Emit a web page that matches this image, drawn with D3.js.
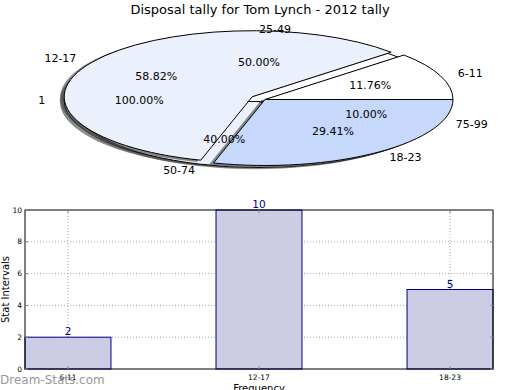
<!DOCTYPE html>
<html><head><meta charset="utf-8">
<script src="https://cdn.jsdelivr.net/npm/d3@7"></script>
<style>body{margin:0;background:#fff}svg{display:block;font-family:"DejaVu Sans",sans-serif}</style>
</head><body><svg id="c" width="520" height="390"></svg>
<script>
const title = "Disposal tally for Tom Lynch - 2012 tally";
// pie layers (drawn bottom to top)
const pie3Labels = ["1"];
const pie3Values = [1];
const pie2Labels = ["25-49", "50-74", "75-99"];
const pie2Values = [5, 4, 1];
const pie1Labels = ["6-11", "12-17", "18-23"];
const pie1Values = [2, 10, 5];
const pie1Explode = [0, 0.08, 0];
// bar chart
const barCategories = ["6-11", "12-17", "18-23"];
const barValues = [2, 10, 5];
const yTicks = [0, 2, 4, 6, 8, 10];

const svg = d3.select("#c");
const colors = ["#ffffff", "#eaf0fc", "#c6d8fb"];
const RX = 188, RY = 66;

svg.append("text").attr("x", 260).attr("y", 14).attr("text-anchor", "middle")
  .attr("font-size", 13).text(title);

function drawPie(labels, values, cx, cy, explode, cols) {
  const pie = d3.pie().sort(null).startAngle(Math.PI / 2).endAngle(Math.PI / 2 - 2 * Math.PI);
  const arcs = pie(values);
  const total = d3.sum(values);
  const arc = d3.arc().innerRadius(0).outerRadius(RX);
  const g = svg.append("g");
  const off = (d, i) => {
    const m = (d.startAngle + d.endAngle) / 2, e = explode ? explode[i] : 0;
    return [cx + e * RX * Math.sin(m), cy - e * RY * Math.cos(m)];
  };
  // shadow
  arcs.forEach((d, i) => {
    const [x, y] = off(d, i);
    g.append("path").attr("d", arc(d))
      .attr("transform", `translate(${x - 3.8},${y + 1.3}) scale(1,${RY / RX})`)
      .attr("fill", "#333").attr("fill-opacity", 0.55)
      .attr("stroke", "#666").attr("stroke-width", 0.6).attr("vector-effect", "non-scaling-stroke");
  });
  arcs.forEach((d, i) => {
    const [x, y] = off(d, i);
    g.append("path").attr("d", arc(d))
      .attr("transform", `translate(${x},${y}) scale(1,${RY / RX})`)
      .attr("fill", cols[i % cols.length]).attr("stroke", "#000").attr("stroke-width", 1)
      .attr("vector-effect", "non-scaling-stroke").attr("stroke-linejoin", "round");
  });
  return arcs.map((d, i) => ({ d, i, o: off(d, i), total }));
}

function drawLabels(info, labels, values) {
  info.forEach(({ d, i, o, total }) => {
    const m = (d.startAngle + d.endAngle) / 2;
    const sx = Math.sin(m), cyv = Math.cos(m);
    const lx = o[0] + 1.1 * RX * sx, ly = o[1] - 1.1 * RY * cyv;
    svg.append("text").attr("x", lx).attr("y", ly).attr("dy", "0.35em")
      .attr("text-anchor", sx > 1e-9 || Math.abs(sx) < 1e-9 ? "start" : "end")
      .attr("font-size", 11).text(labels[i]);
    const px = o[0] + 0.6 * RX * sx, py = o[1] - 0.6 * RY * cyv;
    svg.append("text").attr("x", px).attr("y", py).attr("dy", "0.35em")
      .attr("text-anchor", "middle").attr("font-size", 11)
      .text((values[i] / total * 100).toFixed(2) + "%");
  });
}

const i3 = drawPie(pie3Labels, pie3Values, 252, 100, null, ["#ffffff"]);
const i2 = drawPie(pie2Labels, pie2Values, 259, 101.5, null, colors);
const i1 = drawPie(pie1Labels, pie1Values, 265, 99.5, pie1Explode, colors);
drawLabels(i3, pie3Labels, pie3Values);
drawLabels(i2, pie2Labels, pie2Values);
drawLabels(i1, pie1Labels, pie1Values);

// ---- bar chart ----
const L = 25, R = 493, T = 210, B = 369;
const x = d3.scaleLinear().domain([-0.225, barCategories.length - 1 + 0.225]).range([L, R]);
const y = d3.scaleLinear().domain([0, 10]).range([B, T]);
const bw = x(0.225) - x(-0.225);
const gb = svg.append("g");
// grid
gb.selectAll(".gy").data(yTicks.slice(1, -1)).join("line")
  .attr("x1", L).attr("x2", R).attr("y1", d => y(d)).attr("y2", d => y(d))
  .attr("stroke", "#aaa").attr("stroke-dasharray", "1,2");
gb.selectAll(".gx").data(barCategories).join("line")
  .attr("x1", (d, i) => x(i)).attr("x2", (d, i) => x(i)).attr("y1", T).attr("y2", B)
  .attr("stroke", "#aaa").attr("stroke-dasharray", "1,2");
// bars
gb.selectAll(".bar").data(barValues).join("rect")
  .attr("x", (d, i) => x(i) - bw / 2).attr("width", bw)
  .attr("y", d => y(d)).attr("height", d => B - y(d))
  .attr("fill", "#ccccE5").attr("stroke", "#000080").attr("stroke-width", 1);
gb.selectAll(".val").data(barValues).join("text")
  .attr("x", (d, i) => x(i)).attr("y", d => y(d) - 2).attr("text-anchor", "middle")
  .attr("font-size", 10.5).attr("fill", "#000080").text(d => d);
// frame
gb.append("rect").attr("x", L).attr("y", T).attr("width", R - L).attr("height", B - T)
  .attr("fill", "none").attr("stroke", "#000").attr("stroke-width", 1);
// ticks
yTicks.forEach(t => {
  gb.append("line").attr("x1", L).attr("x2", L + 3).attr("y1", y(t)).attr("y2", y(t)).attr("stroke", "#888");
  gb.append("line").attr("x1", R - 3).attr("x2", R).attr("y1", y(t)).attr("y2", y(t)).attr("stroke", "#888");
  gb.append("text").attr("x", L - 3).attr("y", y(t)).attr("dy", "0.35em").attr("text-anchor", "end")
    .attr("font-size", 7.5).text(t);
});
barCategories.forEach((c, i) => {
  gb.append("line").attr("x1", x(i)).attr("x2", x(i)).attr("y1", B - 3).attr("y2", B).attr("stroke", "#888");
  gb.append("line").attr("x1", x(i)).attr("x2", x(i)).attr("y1", T).attr("y2", T + 3).attr("stroke", "#888");
  gb.append("text").attr("x", x(i)).attr("y", B + 11).attr("text-anchor", "middle")
    .attr("font-size", 7.5).text(c);
});
svg.append("text").attr("x", (L + R) / 2).attr("y", 392).attr("text-anchor", "middle")
  .attr("font-size", 10).text("Frequency");
svg.append("text").attr("transform", `translate(8.5,${(T + B) / 2}) rotate(-90)`)
  .attr("text-anchor", "middle").attr("font-size", 10).text("Stat Intervals");
svg.append("text").attr("x", 0).attr("y", 384).attr("font-size", 12)
  .attr("fill", "#999").text("Dream-Stats.com");
</script></body></html>
